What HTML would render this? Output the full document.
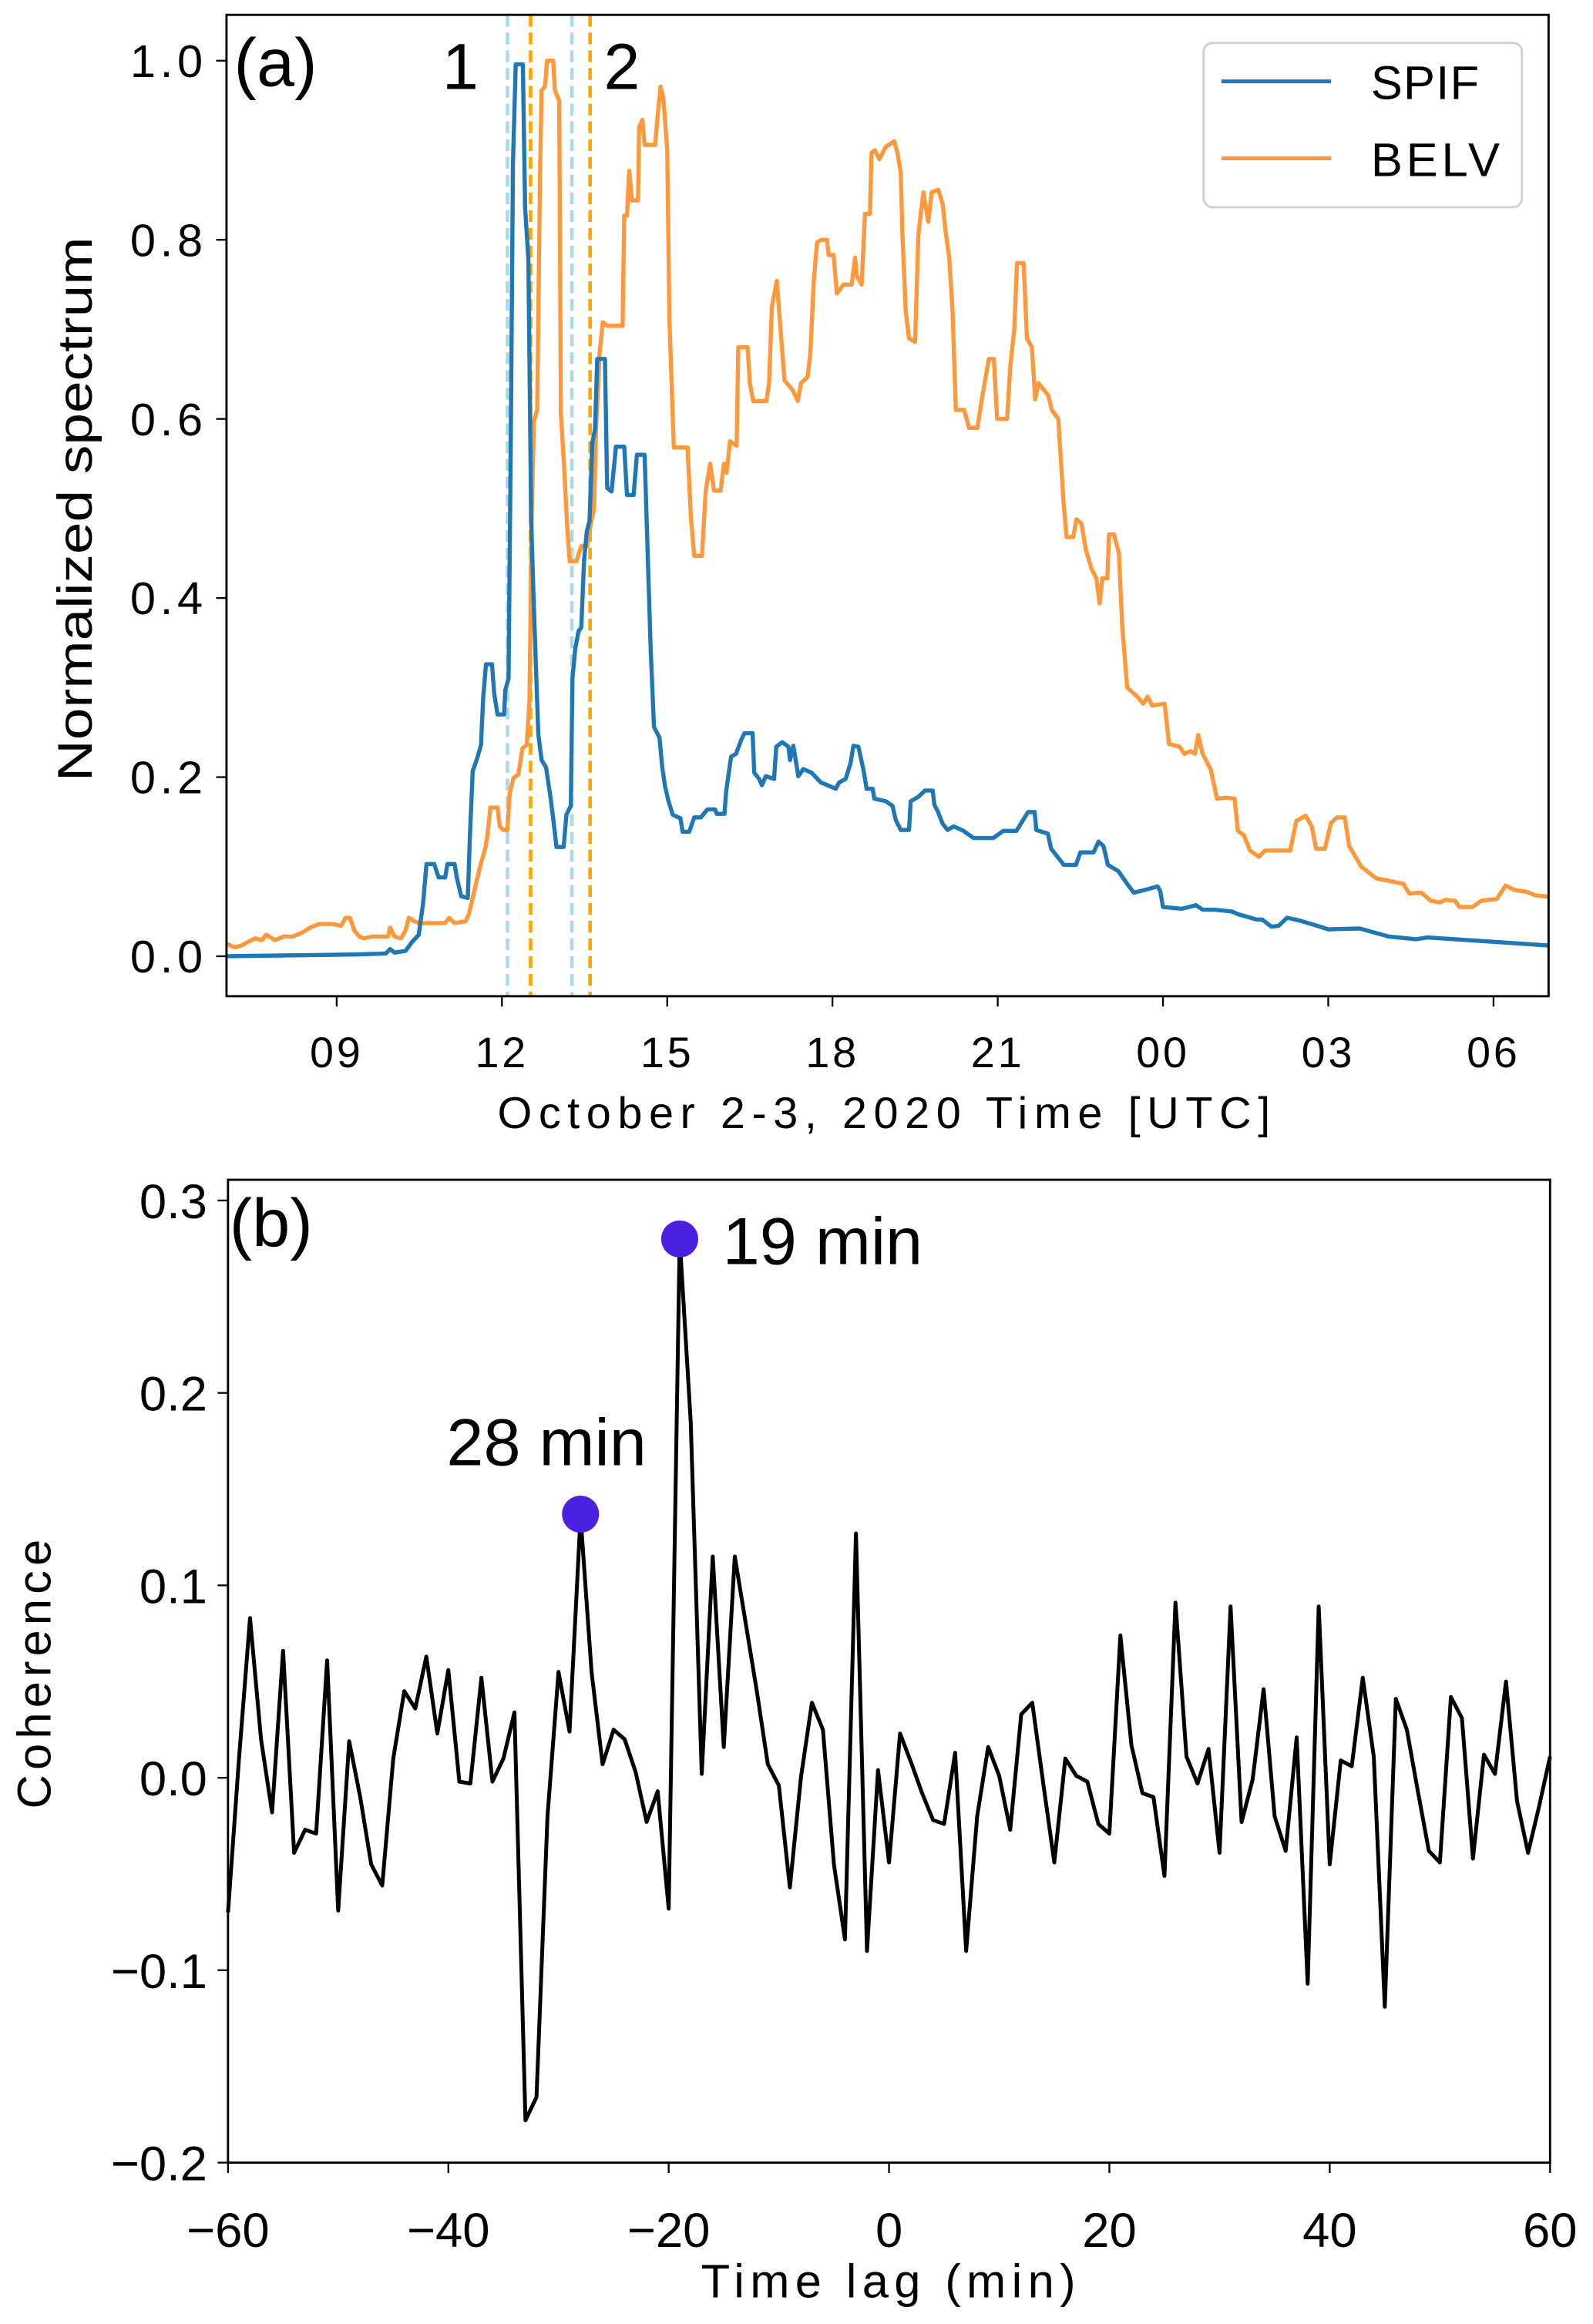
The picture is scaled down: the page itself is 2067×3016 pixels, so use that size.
<!DOCTYPE html>
<html><head><meta charset="utf-8"><style>
html,body{margin:0;padding:0;background:#fff;}
svg{display:block;}
text{font-family:"Liberation Sans",sans-serif;fill:#000;}
</style></head><body>
<svg id="fig" width="2067" height="3016" viewBox="0 0 1076 1570" xmlns="http://www.w3.org/2000/svg"></svg>
<script>
// ---------- Panel (a) data ----------
const spifHours = [7,9.33,9.89,9.97,10.05,10.25,10.37,10.49,10.57,10.63,10.77,10.85,10.97,11.01,11.14,11.18,11.26,11.38,11.42,11.47,11.54,11.62,11.66,11.71,11.82,11.86,11.92,12.04,12.06,12.12,12.16,12.2,12.25,12.38,12.42,12.48,12.53,12.57,12.62,12.66,12.72,12.8,12.88,12.93,12.99,13.12,13.17,13.25,13.28,13.33,13.39,13.44,13.49,13.54,13.59,13.64,13.69,13.73,13.87,13.91,13.99,14.07,14.22,14.27,14.39,14.45,14.59,14.65,14.7,14.76,14.86,14.91,14.96,15.02,15.1,15.24,15.28,15.4,15.49,15.61,15.73,15.87,15.9,16.04,16.07,16.16,16.25,16.34,16.4,16.55,16.58,16.67,16.72,16.79,16.94,16.98,17.09,17.2,17.23,17.29,17.38,17.47,17.62,17.79,17.91,18.06,18.12,18.24,18.33,18.38,18.47,18.56,18.62,18.73,18.76,18.97,19.09,19.15,19.24,19.39,19.42,19.56,19.68,19.82,19.85,19.91,20.0,20.09,20.2,20.38,20.56,20.92,21.1,21.34,21.46,21.55,21.67,21.7,21.91,21.97,22.2,22.42,22.5,22.74,22.83,22.92,23.0,23.19,23.36,23.47,23.73,23.9,23.95,24.0,24.34,24.6,24.72,24.93,25.25,25.36,25.7,25.8,25.97,26.1,26.25,26.47,26.8,27.0,27.57,28.1,28.6,28.8,29.78,31];
const spifValues = [0,0.002,0.003,0.008,0.004,0.006,0.016,0.024,0.06,0.103,0.103,0.088,0.088,0.103,0.103,0.088,0.067,0.065,0.137,0.207,0.219,0.236,0.289,0.326,0.326,0.293,0.27,0.27,0.297,0.31,0.573,0.885,0.996,0.996,0.836,0.778,0.49,0.408,0.318,0.248,0.219,0.211,0.178,0.154,0.122,0.122,0.158,0.168,0.31,0.343,0.363,0.367,0.441,0.474,0.486,0.573,0.589,0.667,0.667,0.523,0.519,0.569,0.569,0.515,0.515,0.56,0.56,0.441,0.343,0.256,0.244,0.211,0.19,0.174,0.158,0.154,0.139,0.139,0.155,0.155,0.164,0.164,0.159,0.159,0.184,0.223,0.226,0.241,0.249,0.249,0.205,0.198,0.191,0.201,0.198,0.234,0.239,0.234,0.219,0.235,0.201,0.209,0.205,0.194,0.191,0.187,0.194,0.198,0.216,0.235,0.234,0.209,0.187,0.187,0.176,0.173,0.168,0.152,0.141,0.141,0.173,0.178,0.185,0.185,0.169,0.162,0.148,0.141,0.145,0.14,0.132,0.132,0.14,0.14,0.152,0.161,0.161,0.141,0.137,0.12,0.102,0.102,0.116,0.116,0.128,0.123,0.102,0.095,0.08,0.071,0.075,0.078,0.073,0.055,0.053,0.057,0.052,0.052,0.05,0.047,0.041,0.041,0.033,0.034,0.043,0.04,0.034,0.03,0.031,0.022,0.019,0.021,0.017,0.012,0.007];
const belvHours = [7,7.15,7.27,7.39,7.52,7.64,7.72,7.88,8.04,8.2,8.36,8.52,8.68,8.92,9.08,9.16,9.24,9.32,9.41,9.49,9.65,9.93,9.97,10.05,10.17,10.25,10.31,10.41,10.49,10.97,11.04,11.14,11.34,11.4,11.46,11.54,11.62,11.7,11.74,11.79,11.92,11.96,12.02,12.1,12.14,12.21,12.3,12.37,12.45,12.5,12.54,12.58,12.64,12.69,12.72,12.78,12.82,12.93,12.96,13.04,13.07,13.12,13.19,13.23,13.35,13.44,13.55,13.61,13.67,13.71,13.77,13.83,13.91,14.19,14.22,14.27,14.31,14.36,14.47,14.49,14.55,14.59,14.78,14.84,14.88,14.93,15.0,15.04,15.12,15.37,15.43,15.49,15.63,15.7,15.78,15.85,15.97,16.03,16.08,16.14,16.26,16.29,16.46,16.5,16.56,16.8,16.85,16.9,16.99,17.07,17.13,17.28,17.37,17.43,17.55,17.6,17.66,17.72,17.8,17.9,17.93,18.02,18.08,18.2,18.35,18.41,18.44,18.53,18.59,18.68,18.71,18.77,18.85,18.97,19.12,19.18,19.24,19.27,19.33,19.39,19.5,19.56,19.65,19.74,19.8,19.92,20.0,20.06,20.12,20.18,20.24,20.39,20.48,20.63,20.72,20.78,20.84,20.93,20.99,21.17,21.23,21.3,21.35,21.47,21.53,21.62,21.68,21.74,21.92,21.98,22.1,22.19,22.25,22.37,22.43,22.52,22.6,22.7,22.79,22.85,22.9,22.99,23.02,23.11,23.2,23.26,23.35,23.53,23.64,23.72,23.8,24.03,24.11,24.3,24.39,24.5,24.58,24.64,24.72,24.87,24.98,25.14,25.3,25.36,25.47,25.58,25.74,25.85,26.31,26.42,26.59,26.7,26.78,26.94,27.05,27.16,27.3,27.38,27.6,27.87,28.36,28.47,28.69,28.86,29.02,29.13,29.3,29.38,29.62,29.78,30.06,30.22,30.38,30.6,30.76,31];
const belvValues = [0.014,0.01,0.012,0.016,0.02,0.018,0.024,0.018,0.022,0.022,0.026,0.032,0.036,0.036,0.034,0.043,0.043,0.029,0.022,0.02,0.022,0.022,0.032,0.022,0.02,0.029,0.043,0.039,0.037,0.037,0.043,0.037,0.039,0.047,0.063,0.084,0.104,0.121,0.137,0.166,0.166,0.145,0.141,0.141,0.182,0.199,0.203,0.232,0.236,0.285,0.49,0.597,0.61,0.869,0.967,0.971,1.0,1.0,0.967,0.955,0.606,0.556,0.474,0.441,0.441,0.458,0.458,0.482,0.499,0.589,0.671,0.708,0.704,0.704,0.827,0.827,0.877,0.844,0.844,0.926,0.934,0.906,0.906,0.947,0.971,0.958,0.901,0.712,0.568,0.568,0.49,0.447,0.447,0.52,0.55,0.52,0.52,0.55,0.54,0.575,0.57,0.68,0.68,0.64,0.62,0.62,0.64,0.725,0.754,0.69,0.643,0.632,0.62,0.64,0.647,0.675,0.753,0.797,0.80,0.80,0.783,0.783,0.74,0.75,0.75,0.78,0.76,0.75,0.829,0.829,0.897,0.90,0.89,0.904,0.91,0.897,0.875,0.806,0.72,0.69,0.686,0.806,0.853,0.82,0.853,0.856,0.84,0.806,0.78,0.72,0.61,0.61,0.59,0.59,0.625,0.646,0.667,0.667,0.6,0.6,0.66,0.70,0.774,0.774,0.69,0.68,0.622,0.64,0.626,0.61,0.6,0.511,0.468,0.468,0.488,0.483,0.454,0.433,0.422,0.394,0.422,0.422,0.471,0.471,0.45,0.369,0.30,0.29,0.282,0.29,0.28,0.282,0.237,0.234,0.226,0.229,0.226,0.247,0.226,0.208,0.176,0.177,0.176,0.14,0.135,0.118,0.111,0.118,0.118,0.151,0.157,0.145,0.12,0.12,0.149,0.155,0.155,0.123,0.1,0.087,0.081,0.07,0.071,0.062,0.06,0.063,0.062,0.055,0.055,0.062,0.064,0.079,0.074,0.072,0.068,0.0665];
const markerHoursBlue = [12.1, 13.27];
const markerHoursOrange = [12.52, 13.6];
const hourTicks = [9,12,15,18,21,24,27,30];
const hourTickLabels = ["09","12","15","18","21","00","03","06"];
const specTicks = [0,0.2,0.4,0.6,0.8,1.0];
const specTickLabels = ["0.0","0.2","0.4","0.6","0.8","1.0"];

// ---------- Panel (b) data ----------
const lagValues = [-60,-59,-58,-57,-56,-55,-54,-53,-52,-51,-50,-49,-48,-47,-46,-45,-44,-43,-42,-41,-40,-39,-38,-37,-36,-35,-34,-33,-32,-31,-30,-29,-28,-27,-26,-25,-24,-23,-22,-21,-20,-19,-18,-17,-16,-15,-14,-13,-12,-11,-10,-9,-8,-7,-6,-5,-4,-3,-2,-1,0,1,2,3,4,5,6,7,8,9,10,11,12,13,14,15,16,17,18,19,20,21,22,23,24,25,26,27,28,29,30,31,32,33,34,35,36,37,38,39,40,41,42,43,44,45,46,47,48,49,50,51,52,53,54,55,56,57,58,59,60];
const coherenceValues = [-0.07,0.01,0.083,0.02,-0.018,0.066,-0.039,-0.027,-0.029,0.061,-0.069,0.019,-0.01,-0.045,-0.056,0.01,0.045,0.036,0.063,0.023,0.056,-0.002,-0.003,0.052,-0.002,0.01,0.034,-0.178,-0.166,-0.02,0.055,0.024,0.136,0.055,0.007,0.025,0.02,0.003,-0.023,-0.007,-0.068,0.28,0.185,0.002,0.115,0.016,0.115,0.08,0.045,0.007,-0.004,-0.057,0.0,0.039,0.025,-0.045,-0.084,0.127,-0.09,0.004,-0.044,0.023,0.008,-0.008,-0.022,-0.024,0.013,-0.09,-0.02,0.016,0.001,-0.027,0.033,0.039,-0.003,-0.044,0.01,0.001,-0.002,-0.024,-0.029,0.074,0.017,-0.008,-0.01,-0.051,0.091,0.011,-0.003,0.015,-0.039,0.089,-0.023,-0.001,0.046,-0.02,-0.038,0.021,-0.107,0.089,-0.045,0.009,0.006,0.052,0.011,-0.119,0.041,0.025,-0.007,-0.038,-0.044,0.042,0.031,-0.042,0.012,0.002,0.05,-0.012,-0.039,-0.015,0.011];
const peakLags = [-19,-28];
const peakValues = [0.28,0.137];
const peakLabels = ["19 min","28 min"];
const lagTicks = [-60,-40,-20,0,20,40,60];
const lagTickLabels = ["\u221260","\u221240","\u221220","0","20","40","60"];
const cohTicks = [-0.2,-0.1,0,0.1,0.2,0.3];
const cohTickLabels = ["\u22120.2","\u22120.1","0.0","0.1","0.2","0.3"];

const NS = "http://www.w3.org/2000/svg";
const svg = document.getElementById('fig');
function mk(tag, attrs, parent){ const e=document.createElementNS(NS,tag); for(const k in attrs) e.setAttribute(k,attrs[k]); (parent||svg).appendChild(e); return e; }

const A = {l:153,r:1046,t:10,b:673};
const xa = h => A.l + (h-7)*(A.r-A.l)/24;
const ya = v => 646 - v*605;
const B = {l:154,r:1047,t:797,b:1461};
const xb = lag => B.l + (lag+60)*(B.r-B.l)/120;
const yb = v => 1201 - v*1300;

// ---- Panel a ----
const ga = mk('g',{});


const clipA = mk('clipPath',{id:'clipA'}); mk('rect',{x:A.l,y:A.t,width:A.r-A.l,height:A.b-A.t},clipA);
markerHoursBlue.forEach((h,i)=>{
  const l=mk('line',{x1:xa(h),x2:xa(h),y1:A.t,y2:A.b,stroke:'#add8e6','stroke-width':2.4,'stroke-dasharray':'8,4'},ga);
  
  
});
markerHoursOrange.forEach((h,i)=>{
  const l=mk('line',{x1:xa(h),x2:xa(h),y1:A.t,y2:A.b,stroke:'#ffa500','stroke-width':2.4,'stroke-dasharray':'8,4'},ga);
  
  
});
function stepPath(hs, vs){ return hs.map((h,i)=>(i?'L':'M')+xa(h).toFixed(2)+','+ya(vs[i]).toFixed(2)).join(''); }
const pb = mk('path',{d:stepPath(belvHours,belvValues),fill:'none',stroke:'#ff983a','stroke-width':2.8,'stroke-linejoin':'round','clip-path':'url(#clipA)'},ga);


const ps = mk('path',{d:stepPath(spifHours,spifValues),fill:'none',stroke:'#1f77b4','stroke-width':2.8,'stroke-linejoin':'round','clip-path':'url(#clipA)'},ga);


const fa = mk('rect',{x:A.l,y:A.t,width:A.r-A.l,height:A.b-A.t,fill:'none',stroke:'#000','stroke-width':1.5},ga);


hourTicks.forEach((h,i)=>{
  const t=mk('line',{x1:xa(h),x2:xa(h),y1:A.b,y2:A.b+7,stroke:'#000','stroke-width':1.2},ga);
  
  
  const tx=mk('text',{x:xa(h),y:721,'font-size':29,'text-anchor':'middle','letter-spacing':2},ga);
  tx.textContent=hourTickLabels[i];
  
  
});
specTicks.forEach((v,i)=>{
  const t=mk('line',{x1:A.l-7,x2:A.l,y1:ya(v),y2:ya(v),stroke:'#000','stroke-width':1.2},ga);
  
  
  const tx=mk('text',{x:140,y:ya(v)+11,'font-size':31,'text-anchor':'end','letter-spacing':3},ga);
  tx.textContent=specTickLabels[i];
  
  
});
let t;
t=mk('text',{x:597,y:762,'font-size':30,'text-anchor':'middle',textLength:522,lengthAdjust:'spacing'},ga);
t.textContent='October 2-3, 2020 Time [UTC]';
 
t=mk('text',{x:0,y:0,'font-size':33,'text-anchor':'middle',textLength:368,lengthAdjust:'spacingAndGlyphs',transform:'translate(62,344) rotate(-90)'},ga);
t.textContent='Normalized spectrum';
 
t=mk('text',{x:158,y:58,'font-size':46},ga);
t.textContent='(a)';
 
t=mk('text',{x:311,y:60,'font-size':44,'text-anchor':'middle'},ga);
t.textContent='1';
 
t=mk('text',{x:420,y:60,'font-size':44,'text-anchor':'middle'},ga);
t.textContent='2';
 
const lg = mk('g',{},ga);


mk('rect',{x:813,y:29,width:215,height:111,rx:6,fill:'#fff',stroke:'#d0d0d0','stroke-width':1.5},lg);
const le1=mk('line',{x1:825,x2:899,y1:55,y2:55,stroke:'#1f77b4','stroke-width':2.6},lg);
 
const le2=mk('line',{x1:825,x2:899,y1:107,y2:107,stroke:'#ff983a','stroke-width':2.6},lg);
 
t=mk('text',{x:926,y:67,'font-size':32,textLength:73},lg); t.textContent='SPIF';
 
t=mk('text',{x:926,y:119,'font-size':32,textLength:87},lg); t.textContent='BELV';
 

// ---- Panel b ----
const gb = mk('g',{});


const pl = mk('path',{d:lagValues.map((l,i)=>(i?'L':'M')+xb(l).toFixed(2)+','+yb(coherenceValues[i]).toFixed(2)).join(''),fill:'none',stroke:'#000','stroke-width':2.6,'stroke-linejoin':'round'},gb);


peakLags.forEach((l,i)=>{
  const c=mk('circle',{cx:xb(l),cy:yb(peakValues[i]),r:12.5,fill:'#4b20e0'},gb);
  
  
});
t=mk('text',{x:xb(peakLags[0])+29,y:yb(peakValues[0])+17,'font-size':45},gb); t.textContent=peakLabels[0];
 
t=mk('text',{x:xb(peakLags[1])-23,y:yb(peakValues[1])-33,'font-size':45,'text-anchor':'middle'},gb); t.textContent=peakLabels[1];
 
const fb = mk('rect',{x:B.l,y:B.t,width:B.r-B.l,height:B.b-B.t,fill:'none',stroke:'#000','stroke-width':1.5},gb);


lagTicks.forEach((l,i)=>{
  const k=mk('line',{x1:xb(l),x2:xb(l),y1:B.b,y2:B.b+7,stroke:'#000','stroke-width':1.2},gb);
  
  
  const tx=mk('text',{x:xb(l),y:1518,'font-size':33,'text-anchor':'middle'},gb);
  tx.textContent=lagTickLabels[i];
  
  
});
cohTicks.forEach((v,i)=>{
  const k=mk('line',{x1:B.l-7,x2:B.l,y1:yb(v),y2:yb(v),stroke:'#000','stroke-width':1.2},gb);
  
  
  const tx=mk('text',{x:140,y:yb(v)+12,'font-size':33,'text-anchor':'end'},gb);
  tx.textContent=cohTickLabels[i];
  
  
});
t=mk('text',{x:600,y:1552,'font-size':32,'text-anchor':'middle',textLength:253},gb); t.textContent='Time lag (min)';
 
t=mk('text',{x:0,y:0,'font-size':32,'text-anchor':'middle',textLength:182,transform:'translate(34,1131) rotate(-90)'},gb); t.textContent='Coherence';
 
t=mk('text',{x:155,y:842,'font-size':46},gb); t.textContent='(b)';
 
</script>
</body></html>
